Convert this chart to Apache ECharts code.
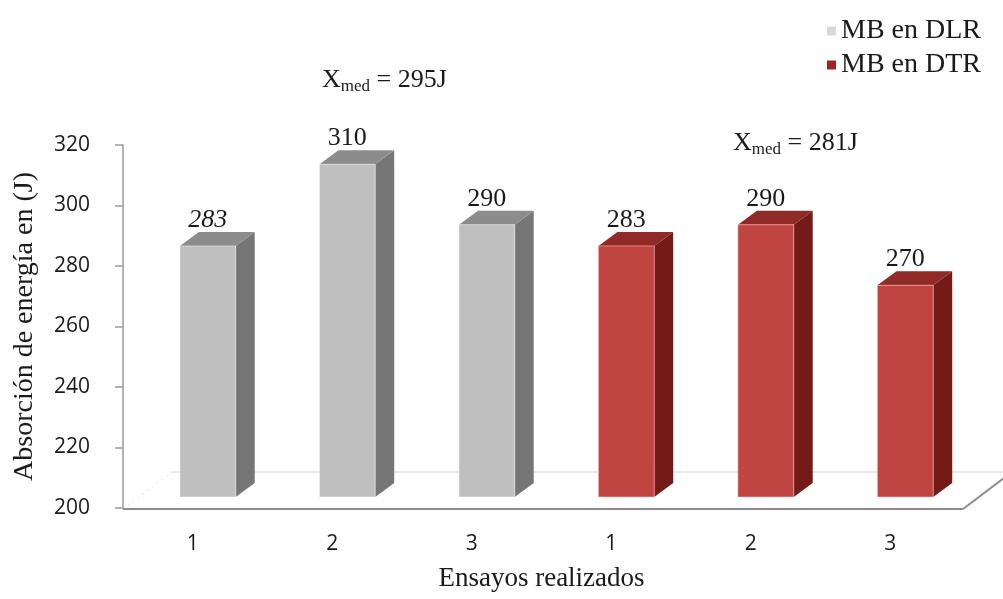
<!DOCTYPE html>
<html>
<head>
<meta charset="utf-8">
<script src="https://cdn.jsdelivr.net/npm/echarts@6/dist/echarts.min.js"></script>
<style>
  html, body { margin: 0; padding: 0; background: #ffffff; }
  #chart { width: 1003px; height: 599px; }
</style>
</head>
<body>
<div id="chart"></div>
<script>
// Impact energy per test, grouped by weld condition
const categories = ['1', '2', '3', '1', '2', '3'];
const dlrValues = [283, 310, 290, null, null, null];
const dtrValues = [null, null, null, 283, 290, 270];
const italicLabels = [true, false, false, false, false, false];
const seriesNames = ['MB en DLR', 'MB en DTR'];
const meanLabels = ['295J', '281J'];
const yMin = 200, yMax = 320, yStep = 20;

const SERIF = '"Liberation Serif", "Times New Roman", serif';
const SANS = '"Open Sans", "Noto Sans", sans-serif';

// Face colours of the pseudo-3D columns
const greyFaces = { front: '#bfbfbf', side: '#767676', top: '#8c8c8c', edge: 'rgba(255,255,255,0.45)' };
const redFaces = { front: '#c0443f', side: '#741b18', top: '#8f2a26', edge: 'rgba(255,190,190,0.6)' };

// Depth offset of the columns and of the floor
const DEPTH_X = 19, DEPTH_Y = -14, LIFT = 11;
const FLOOR_X = 49, FLOOR_Y = -37;

function toPairs(values) {
  return values.map((v, i) => [i, v]).filter(d => d[1] != null);
}

function columnRenderer(faces) {
  return function (params, api) {
    const idx = api.value(0);
    const v = api.value(1);
    const base = api.coord([idx, yMin]);
    const top = api.coord([idx, v]);
    const band = api.size([1, 0])[0];
    const half = band * 0.2;
    const cx = base[0] + band * 0.108;
    const x0 = cx - half, x1 = cx + half;
    const yb = base[1] - LIFT, yt = top[1] - LIFT;
    return {
      type: 'group',
      children: [
        { type: 'polygon', shape: { points: [[x1, yt], [x1 + DEPTH_X, yt + DEPTH_Y], [x1 + DEPTH_X, yb + DEPTH_Y], [x1, yb]] },
          style: { fill: faces.side } },
        { type: 'polygon', shape: { points: [[x0, yt], [x0 + DEPTH_X, yt + DEPTH_Y], [x1 + DEPTH_X, yt + DEPTH_Y], [x1, yt]] },
          style: { fill: faces.top } },
        { type: 'rect', shape: { x: x0, y: yt, width: x1 - x0, height: yb - yt },
          style: { fill: faces.front, stroke: faces.edge, lineWidth: 1 } },
        { type: 'text', style: {
            text: String(v), x: cx, y: yt + DEPTH_Y - 12, align: 'center', verticalAlign: 'middle',
            fontFamily: SERIF, fontSize: 26, fontStyle: italicLabels[idx] ? 'italic' : 'normal', fill: '#1a1a1a' } }
      ]
    };
  };
}

function floorRenderer(params, api) {
  const cs = params.coordSys;
  const fy = cs.y + cs.height + 1;
  const xl = cs.x, xr = cs.x + cs.width + 3;
  return {
    type: 'group',
    children: [
      { type: 'polygon', shape: { points: [[xl, fy], [xl + FLOOR_X, fy + FLOOR_Y], [xr + FLOOR_X, fy + FLOOR_Y], [xr, fy]] },
        style: { fill: '#ffffff' } },
      { type: 'line', shape: { x1: xl + FLOOR_X, y1: fy + FLOOR_Y, x2: xr + FLOOR_X, y2: fy + FLOOR_Y },
        style: { stroke: '#e2e2e2', lineWidth: 1.5 } },
      { type: 'line', shape: { x1: xl, y1: fy, x2: xl + FLOOR_X, y2: fy + FLOOR_Y },
        style: { stroke: '#e6e6e6', lineWidth: 1, lineDash: [2, 4] } },
      { type: 'line', shape: { x1: xl, y1: fy, x2: xr, y2: fy },
        style: { stroke: '#8c8c8c', lineWidth: 2 } },
      { type: 'line', shape: { x1: xr, y1: fy, x2: xr + FLOOR_X, y2: fy + FLOOR_Y },
        style: { stroke: '#8c8c8c', lineWidth: 2 } }
    ]
  };
}

function meanText(x, y, label) {
  return {
    type: 'text', x: x, y: y,
    style: {
      text: '{a|X}{b|med}{a| = ' + label + '}',
      align: 'left', verticalAlign: 'middle', fill: '#1a1a1a',
      rich: {
        a: { fontFamily: SERIF, fontSize: 26, lineHeight: 30, fill: '#1a1a1a' },
        b: { fontFamily: SERIF, fontSize: 17, lineHeight: 14, verticalAlign: 'bottom', fill: '#1a1a1a' }
      }
    }
  };
}

const chart = echarts.init(document.getElementById('chart'), null, { renderer: 'canvas' });

chart.setOption({
  animation: false,
  backgroundColor: '#ffffff',
  grid: { left: 123, right: 43, top: 145, bottom: 91 },
  legend: {
    data: seriesNames,
    orient: 'vertical',
    left: 822, top: 11,
    itemWidth: 9, itemHeight: 9, itemGap: 4,
    icon: 'rect',
    textStyle: { fontFamily: SERIF, fontSize: 28, color: '#1a1a1a', lineHeight: 30 }
  },
  xAxis: {
    type: 'category',
    data: categories,
    name: 'Ensayos realizados',
    nameLocation: 'middle',
    nameGap: 57,
    nameTextStyle: { fontFamily: SERIF, fontSize: 27, color: '#1a1a1a' },
    axisLine: { show: false },
    axisTick: { show: false },
    axisLabel: { fontFamily: SANS, fontSize: 21, color: '#1a1a1a', margin: 26 }
  },
  yAxis: {
    type: 'value',
    min: yMin, max: yMax, interval: yStep,
    name: 'Absorción de energía en (J)',
    nameLocation: 'middle',
    nameGap: 84,
    nameTextStyle: { fontFamily: SERIF, fontSize: 28, color: '#1a1a1a' },
    axisLine: { show: true, lineStyle: { color: '#9a9a9a', width: 1.5 } },
    axisTick: { show: true, length: 8, lineStyle: { color: '#9a9a9a', width: 1.5 } },
    axisLabel: { fontFamily: SANS, fontSize: 21, color: '#1a1a1a', margin: 33 },
    splitLine: { show: false }
  },
  graphic: [
    meanText(322, 80, meanLabels[0]),
    meanText(733, 143, meanLabels[1])
  ],
  series: [
    { type: 'custom', name: 'floor', silent: true, z: 1, data: [[0, yMin]], encode: { x: 0, y: 1 },
      renderItem: floorRenderer },
    { type: 'custom', name: seriesNames[0], z: 2, itemStyle: { color: '#d9d9d9' },
      data: toPairs(dlrValues), encode: { x: 0, y: 1 }, renderItem: columnRenderer(greyFaces) },
    { type: 'custom', name: seriesNames[1], z: 2, itemStyle: { color: '#9e2622' },
      data: toPairs(dtrValues), encode: { x: 0, y: 1 }, renderItem: columnRenderer(redFaces) }
  ]
});
</script>
</body>
</html>
